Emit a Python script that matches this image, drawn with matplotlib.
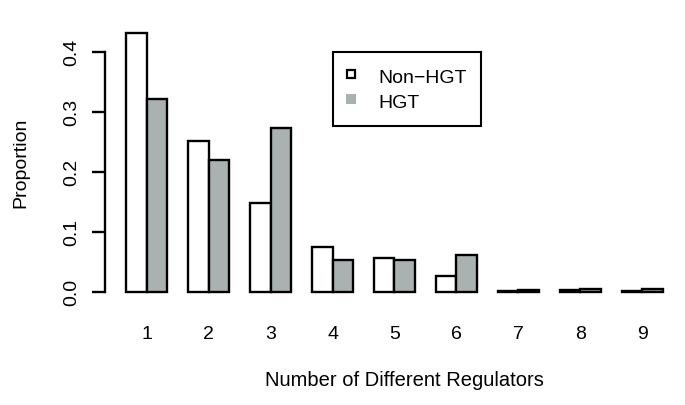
import matplotlib
matplotlib.use('Agg')
import matplotlib.pyplot as plt
from matplotlib.lines import Line2D
import numpy as np

plt.rcParams['font.family'] = ['Liberation Sans', 'DejaVu Sans']

regulators = ['1', '2', '3', '4', '5', '6', '7', '8', '9']
non_hgt = [0.433, 0.253, 0.148, 0.076, 0.057, 0.027, 0.002, 0.003, 0.002]
hgt = [0.322, 0.220, 0.274, 0.054, 0.053, 0.062, 0.003, 0.005, 0.005]
series_names = ['Non\u2212HGT', 'HGT']

gray = '#a9b2b0'

fig = plt.figure(figsize=(6.85, 4.05), dpi=100)
ax = fig.add_axes([0.1526, 0.2533, 0.8466, 0.6923])

# R-style barplot, beside=TRUE: groups of two unit-wide bars with a one unit gap
centers = np.arange(1, len(regulators) + 1) * 3 - 1
ax.bar(centers - 0.5, non_hgt, width=1, color='white', edgecolor='black', linewidth=1.7)
ax.bar(centers + 0.5, hgt, width=1, color=gray, edgecolor='black', linewidth=1.7)

ax.set_xlim(-0.04, 28.04)
ax.set_ylim(-0.0173, 0.4508)

for s in ['top', 'right', 'bottom']:
    ax.spines[s].set_visible(False)
ax.spines['left'].set_bounds(0, 0.4)
ax.spines['left'].set_linewidth(1.7)

ax.set_yticks([0.0, 0.1, 0.2, 0.3, 0.4])
ax.set_yticklabels(['0.0', '0.1', '0.2', '0.3', '0.4'], rotation=90, va='center')
ax.tick_params(axis='y', length=9.4, width=1.7, pad=8, labelsize=14)
ax.set_xticks(centers)
ax.set_xticklabels(regulators)
ax.tick_params(axis='x', length=0, pad=17, labelsize=14)

fig.text(404 / 685, 1 - 381 / 405, 'Number of Different Regulators', ha='center', va='center', fontsize=14.5)
fig.text(20.5 / 685, 1 - 163 / 405, 'Proportion', ha='center', va='center', rotation=90, fontsize=14)

handles = [
    Line2D([], [], linestyle='none', marker='s', markersize=5.5, markerfacecolor='white',
           markeredgecolor='black', markeredgewidth=1.6),
    Line2D([], [], linestyle='none', marker='s', markersize=6.5, markerfacecolor=gray,
           markeredgecolor=gray, markeredgewidth=0),
]
leg = ax.legend(handles, series_names, loc='upper left',
                bbox_to_anchor=(332.7 / 685, 1 - 52 / 405), bbox_transform=fig.transFigure,
                fontsize=14, frameon=True, fancybox=False, framealpha=1,
                borderpad=0.7, labelspacing=0.12, handlelength=0.45, handleheight=1.4,
                handletextpad=1.2, borderaxespad=0)
leg.get_frame().set_edgecolor('black')
leg.get_frame().set_linewidth(1.5)

fig.savefig('out.png', dpi=100)
